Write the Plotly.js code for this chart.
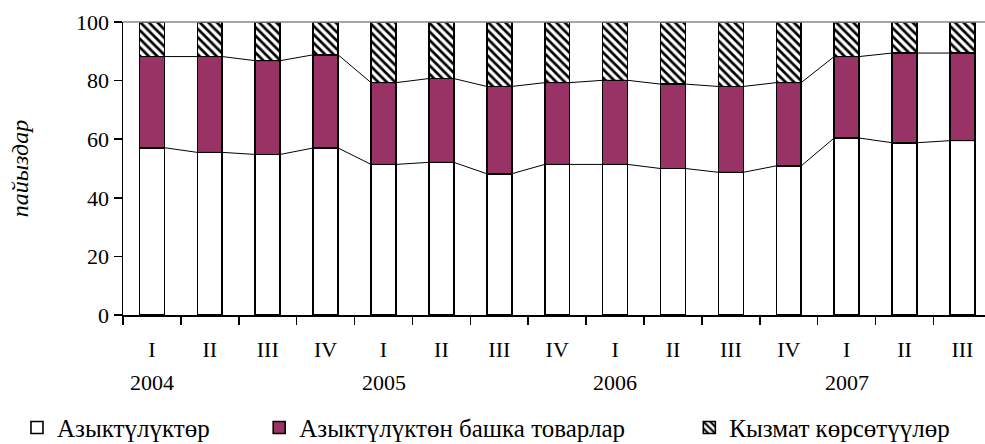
<!DOCTYPE html>
<html>
<head>
<meta charset="utf-8">
<script src="https://cdn.plot.ly/plotly-3.0.1.min.js"></script>
<style>html,body{margin:0;padding:0;background:#fff;}#chart{width:985px;height:444px;}</style>
</head>
<body>
<div id="chart"></div>
<script>
// Quarters and years
const quarters = ["I","II","III","IV","I","II","III","IV","I","II","III","IV","I","II","III"];
const years = ["2004","2005","2006","2007"];
const yearStartIndex = [0, 4, 8, 12];

// Shares, %
const food     = [57.1, 55.5, 54.8, 57.0, 51.4, 52.1, 48.2, 51.4, 51.4, 50.0, 48.7, 50.9, 60.4, 58.8, 59.5];
const nonFood  = [31.1, 32.7, 32.0, 31.8, 27.9, 28.6, 29.8, 27.9, 28.7, 28.8, 29.3, 28.4, 27.8, 30.6, 29.9];
const services = [11.8, 11.8, 13.2, 11.2, 20.7, 19.3, 22.0, 20.7, 19.9, 21.2, 22.0, 20.7, 11.8, 10.6, 10.6];

const seriesNames = ["Азыктүлүктөр", "Азыктүлүктөн башка товарлар", "Кызмат көрсөтүүлөр"];

const idx = quarters.map((_, i) => i);
const W = 0.43;
const FONT = "'Liberation Serif', 'DejaVu Serif', serif";
const FS = 22;
const FSL = 25;

function barTrace(y, name, color, legend, pattern) {
  const m = {color: color, line: {color: "#000", width: 1.6}};
  if (pattern) m.pattern = pattern;
  return {type: "bar", x: idx, y: y, name: name, width: W, marker: m, legend: legend, hoverinfo: "y+name"};
}

// Series lines (connect cumulative tops between bars)
function seriesLine(cum) {
  const xs = [], ys = [];
  cum.forEach((v, i) => { xs.push(i - W/2, i + W/2); ys.push(v, v); });
  return {type: "scatter", mode: "lines", x: xs, y: ys, line: {color: "#000", width: 1}, showlegend: false, hoverinfo: "skip"};
}
const cum1 = food.slice();
const cum2 = food.map((v, i) => v + nonFood[i]);

const traces = [
  barTrace(food, seriesNames[0], "#ffffff", "legend", null),
  barTrace(nonFood, seriesNames[1], "#993366", "legend2", null),
  barTrace(services, seriesNames[2], "#ffffff", "legend3", {shape: "\\", fgcolor: "#000", bgcolor: "#fff", size: 6, solidity: 0.45}),
  seriesLine(cum1),
  seriesLine(cum2)
];

const annotations = years.map((yr, k) => ({
  text: yr, x: yearStartIndex[k], xref: "x", y: -0.232, yref: "paper",
  showarrow: false, xanchor: "center", yanchor: "middle", font: {family: FONT, size: FS, color: "#000"}
}));

const legendBase = {orientation: "h", yanchor: "middle", y: -0.385, xanchor: "left", font: {family: FONT, size: FSL, color: "#000"}, bgcolor: "rgba(0,0,0,0)", itemwidth: 30};

const layout = {
  width: 985, height: 444,
  margin: {l: 123, r: 0, t: 22, b: 129, autoexpand: false},
  paper_bgcolor: "#fff", plot_bgcolor: "#fff",
  barmode: "stack",
  font: {family: FONT, size: FS, color: "#000"},
  xaxis: {
    range: [-0.5, 14.39], tickmode: "array", tickvals: idx, ticktext: quarters,
    ticks: "", showgrid: false, zeroline: false, showline: true, linecolor: "#000", linewidth: 1.5,
    tickfont: {family: FONT, size: FS, color: "#000"}, ticklabelstandoff: 14,
    minor: {ticks: "outside", tickmode: "linear", tick0: -0.5, dtick: 1, ticklen: 8, tickwidth: 1.5, tickcolor: "#000", showgrid: false}
  },
  yaxis: {
    range: [0, 100], tickvals: [0, 20, 40, 60, 80, 100], ticks: "outside", ticklen: 8, tickwidth: 1.5, tickcolor: "#000",
    showline: true, linecolor: "#000", linewidth: 1.5, showgrid: false, zeroline: false,
    tickfont: {family: FONT, size: FS, color: "#000"},
    title: {text: "<i>пайыздар</i>", font: {family: FONT, size: FSL - 1, color: "#000"}, standoff: 40}
  },
  shapes: [{type: "line", xref: "paper", yref: "paper", x0: 0, x1: 1, y0: 1, y1: 1, line: {color: "#888", width: 1.5}}],
  annotations: annotations,
  showlegend: true,
  legend: Object.assign({}, legendBase, {x: -0.123}),
  legend2: Object.assign({}, legendBase, {x: 0.158}),
  legend3: Object.assign({}, legendBase, {x: 0.657})
};

Plotly.newPlot("chart", traces, layout, {displayModeBar: false, staticPlot: true});
</script>
</body>
</html>
